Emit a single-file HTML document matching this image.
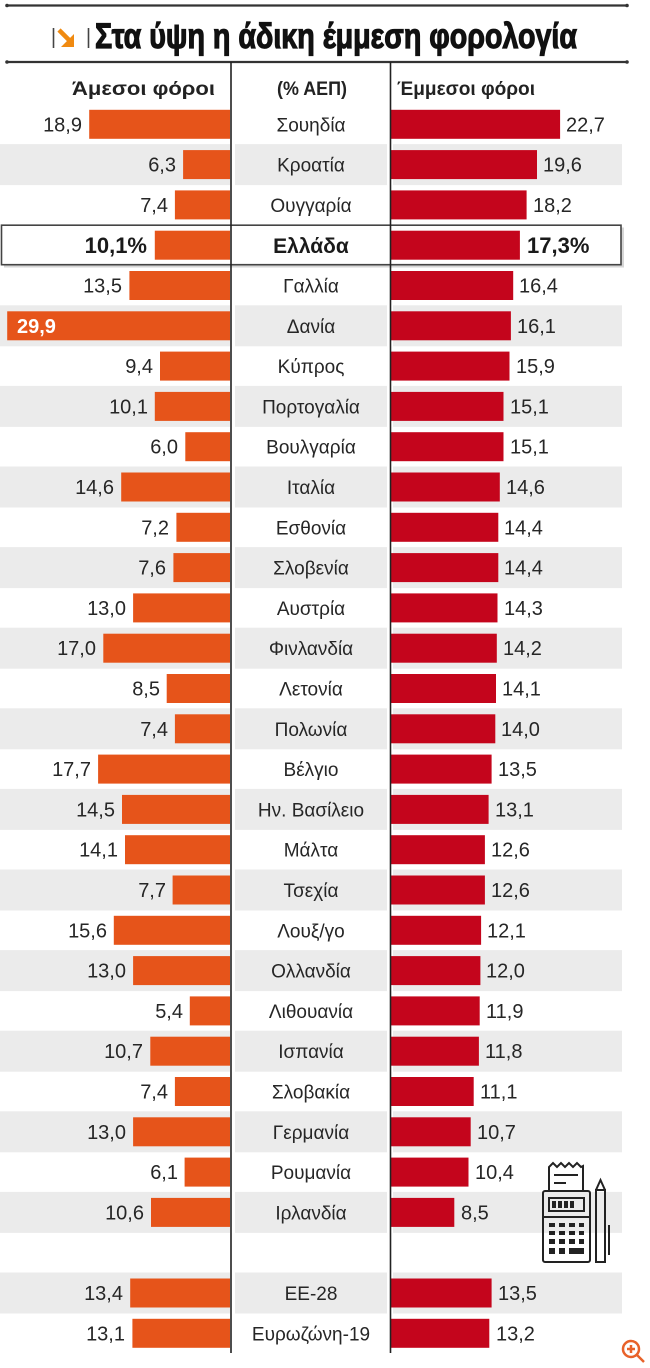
<!DOCTYPE html>
<html>
<head>
<meta charset="utf-8">
<style>
  html,body{margin:0;padding:0;background:#fff;}
  body{width:650px;height:1368px;overflow:hidden;}
  svg{display:block;}
  .lab{font-family:"Liberation Sans","DejaVu Sans",sans-serif;font-size:20px;fill:#262626;}
  .mid{font-family:"Liberation Sans","DejaVu Sans",sans-serif;font-size:19px;fill:#262626;text-anchor:middle;}
  .l{text-anchor:end;}
</style>
</head>
<body>
<svg width="650" height="1368" viewBox="0 0 650 1368" xmlns="http://www.w3.org/2000/svg">
  <rect x="0" y="0" width="650" height="1368" fill="#fff"/>

  <!-- top rules -->
  <line x1="7" y1="5.5" x2="627" y2="5.5" stroke="#333" stroke-width="2.2"/>
  <circle cx="7" cy="5.5" r="1.8" fill="#333"/><circle cx="627" cy="5.5" r="1.8" fill="#333"/>
  <line x1="7" y1="62" x2="627" y2="62" stroke="#333" stroke-width="2.2"/>
  <circle cx="7" cy="62" r="1.8" fill="#333"/><circle cx="627" cy="62" r="1.8" fill="#333"/>

  <!-- title icon -->
  <line x1="53.5" y1="28" x2="53.5" y2="48" stroke="#444" stroke-width="1.6"/>
  <line x1="88.5" y1="28" x2="88.5" y2="48" stroke="#444" stroke-width="1.6"/>
  <polyline points="59,30 71,42" stroke="#f08a10" stroke-width="4.5" fill="none"/>
  <polygon points="74,34 74,47 61,47" fill="#f08a10"/>
  <!-- title -->
  <text x="95" y="48" textLength="482" lengthAdjust="spacingAndGlyphs" font-family="'Liberation Sans','DejaVu Sans',sans-serif" font-weight="bold" font-size="35" fill="#111" stroke="#111" stroke-width="1.2">Στα ύψη η άδικη έμμεση φορολογία</text>

  <!-- headers -->
  <text x="215" y="95" text-anchor="end" textLength="143" lengthAdjust="spacingAndGlyphs" font-family="'Liberation Sans','DejaVu Sans',sans-serif" font-weight="bold" font-size="19" fill="#222">Άμεσοι φόροι</text>
  <text x="277" y="95" textLength="70" lengthAdjust="spacingAndGlyphs" font-family="'Liberation Sans','DejaVu Sans',sans-serif" font-weight="bold" font-size="19" fill="#222">(% ΑΕΠ)</text>
  <text x="397" y="95" textLength="138" lengthAdjust="spacingAndGlyphs" font-family="'Liberation Sans','DejaVu Sans',sans-serif" font-weight="bold" font-size="19" fill="#222">Έμμεσοι φόροι</text>

  <!-- gray bands (odd rows) -->
  <g fill="#ebebeb">
    <rect x="0" y="144.1" width="230" height="41"/><rect x="235" y="144.1" width="152" height="41"/><rect x="393" y="144.1" width="229" height="41"/>
    <rect x="0" y="305.3" width="230" height="41"/><rect x="235" y="305.3" width="152" height="41"/><rect x="393" y="305.3" width="229" height="41"/>
    <rect x="0" y="385.9" width="230" height="41"/><rect x="235" y="385.9" width="152" height="41"/><rect x="393" y="385.9" width="229" height="41"/>
    <rect x="0" y="466.5" width="230" height="41"/><rect x="235" y="466.5" width="152" height="41"/><rect x="393" y="466.5" width="229" height="41"/>
    <rect x="0" y="547.1" width="230" height="41"/><rect x="235" y="547.1" width="152" height="41"/><rect x="393" y="547.1" width="229" height="41"/>
    <rect x="0" y="627.7" width="230" height="41"/><rect x="235" y="627.7" width="152" height="41"/><rect x="393" y="627.7" width="229" height="41"/>
    <rect x="0" y="708.3" width="230" height="41"/><rect x="235" y="708.3" width="152" height="41"/><rect x="393" y="708.3" width="229" height="41"/>
    <rect x="0" y="788.9" width="230" height="41"/><rect x="235" y="788.9" width="152" height="41"/><rect x="393" y="788.9" width="229" height="41"/>
    <rect x="0" y="869.5" width="230" height="41"/><rect x="235" y="869.5" width="152" height="41"/><rect x="393" y="869.5" width="229" height="41"/>
    <rect x="0" y="950.1" width="230" height="41"/><rect x="235" y="950.1" width="152" height="41"/><rect x="393" y="950.1" width="229" height="41"/>
    <rect x="0" y="1030.7" width="230" height="41"/><rect x="235" y="1030.7" width="152" height="41"/><rect x="393" y="1030.7" width="229" height="41"/>
    <rect x="0" y="1111.3" width="230" height="41"/><rect x="235" y="1111.3" width="152" height="41"/><rect x="393" y="1111.3" width="229" height="41"/>
    <rect x="0" y="1191.9" width="230" height="41"/><rect x="235" y="1191.9" width="152" height="41"/><rect x="393" y="1191.9" width="229" height="41"/>
    <rect x="0" y="1272.5" width="230" height="41"/><rect x="235" y="1272.5" width="152" height="41"/><rect x="393" y="1272.5" width="229" height="41"/>
  </g>

  <!-- Greece box -->
  <rect x="4" y="227.5" width="620" height="40" fill="#bbb" opacity="0.6"/>
  <rect x="1.5" y="225.2" width="619.5" height="39.5" fill="#fff" stroke="#444" stroke-width="1.6"/>

  <!-- orange bars -->
  <g fill="#e6541a">
    <rect x="89.2" y="109.8" width="140.8" height="29"/>
    <rect x="183.1" y="150.1" width="46.9" height="29"/>
    <rect x="174.9" y="190.4" width="55.1" height="29"/>
    <rect x="154.8" y="230.7" width="75.2" height="29"/>
    <rect x="129.4" y="271.0" width="100.6" height="29"/>
    <rect x="7.2" y="311.3" width="222.8" height="29"/>
    <rect x="160.0" y="351.6" width="70.0" height="29"/>
    <rect x="154.8" y="391.9" width="75.2" height="29"/>
    <rect x="185.3" y="432.2" width="44.7" height="29"/>
    <rect x="121.2" y="472.5" width="108.8" height="29"/>
    <rect x="176.4" y="512.8" width="53.6" height="29"/>
    <rect x="173.4" y="553.1" width="56.6" height="29"/>
    <rect x="133.1" y="593.4" width="96.9" height="29"/>
    <rect x="103.3" y="633.7" width="126.7" height="29"/>
    <rect x="166.7" y="674.0" width="63.3" height="29"/>
    <rect x="174.9" y="714.3" width="55.1" height="29"/>
    <rect x="98.1" y="754.6" width="131.9" height="29"/>
    <rect x="122.0" y="794.9" width="108.0" height="29"/>
    <rect x="125.0" y="835.2" width="105.0" height="29"/>
    <rect x="172.6" y="875.5" width="57.4" height="29"/>
    <rect x="113.8" y="915.8" width="116.2" height="29"/>
    <rect x="133.1" y="956.1" width="96.9" height="29"/>
    <rect x="189.8" y="996.4" width="40.2" height="29"/>
    <rect x="150.3" y="1036.7" width="79.7" height="29"/>
    <rect x="174.9" y="1077.0" width="55.1" height="29"/>
    <rect x="133.1" y="1117.3" width="96.9" height="29"/>
    <rect x="184.6" y="1157.6" width="45.4" height="29"/>
    <rect x="151.0" y="1197.9" width="79.0" height="29"/>
    <rect x="130.2" y="1278.5" width="99.8" height="29"/>
    <rect x="132.4" y="1318.8" width="97.6" height="29"/>
  </g>

  <!-- red bars -->
  <g fill="#c4051c">
    <rect x="391" y="109.8" width="169.1" height="29"/>
    <rect x="391" y="150.1" width="146.0" height="29"/>
    <rect x="391" y="190.4" width="135.6" height="29"/>
    <rect x="391" y="230.7" width="128.9" height="29"/>
    <rect x="391" y="271.0" width="122.2" height="29"/>
    <rect x="391" y="311.3" width="119.9" height="29"/>
    <rect x="391" y="351.6" width="118.5" height="29"/>
    <rect x="391" y="391.9" width="112.5" height="29"/>
    <rect x="391" y="432.2" width="112.5" height="29"/>
    <rect x="391" y="472.5" width="108.8" height="29"/>
    <rect x="391" y="512.8" width="107.3" height="29"/>
    <rect x="391" y="553.1" width="107.3" height="29"/>
    <rect x="391" y="593.4" width="106.5" height="29"/>
    <rect x="391" y="633.7" width="105.8" height="29"/>
    <rect x="391" y="674.0" width="105.0" height="29"/>
    <rect x="391" y="714.3" width="104.3" height="29"/>
    <rect x="391" y="754.6" width="100.6" height="29"/>
    <rect x="391" y="794.9" width="97.6" height="29"/>
    <rect x="391" y="835.2" width="93.9" height="29"/>
    <rect x="391" y="875.5" width="93.9" height="29"/>
    <rect x="391" y="915.8" width="90.1" height="29"/>
    <rect x="391" y="956.1" width="89.4" height="29"/>
    <rect x="391" y="996.4" width="88.7" height="29"/>
    <rect x="391" y="1036.7" width="87.9" height="29"/>
    <rect x="391" y="1077.0" width="82.7" height="29"/>
    <rect x="391" y="1117.3" width="79.7" height="29"/>
    <rect x="391" y="1157.6" width="77.5" height="29"/>
    <rect x="391" y="1197.9" width="63.3" height="29"/>
    <rect x="391" y="1278.5" width="100.6" height="29"/>
    <rect x="391" y="1318.8" width="98.3" height="29"/>
  </g>

  <!-- dividers -->
  <line x1="231" y1="62" x2="231" y2="1353" stroke="#222" stroke-width="1.6"/>
  <line x1="390.5" y1="62" x2="390.5" y2="1353" stroke="#222" stroke-width="1.6"/>

  <!-- left labels -->
  <g class="lab l">
    <text x="82" y="131.3">18,9</text>
    <text x="176" y="171.6">6,3</text>
    <text x="168" y="211.9">7,4</text>
    <text x="122" y="292.5">13,5</text>
    <text x="153" y="373.1">9,4</text>
    <text x="148" y="413.4">10,1</text>
    <text x="178" y="453.7">6,0</text>
    <text x="114" y="494.0">14,6</text>
    <text x="169" y="534.3">7,2</text>
    <text x="166" y="574.6">7,6</text>
    <text x="126" y="614.9">13,0</text>
    <text x="96" y="655.2">17,0</text>
    <text x="160" y="695.5">8,5</text>
    <text x="168" y="735.8">7,4</text>
    <text x="91" y="776.1">17,7</text>
    <text x="115" y="816.4">14,5</text>
    <text x="118" y="856.7">14,1</text>
    <text x="166" y="897.0">7,7</text>
    <text x="107" y="937.3">15,6</text>
    <text x="126" y="977.6">13,0</text>
    <text x="183" y="1017.9">5,4</text>
    <text x="143" y="1058.2">10,7</text>
    <text x="168" y="1098.5">7,4</text>
    <text x="126" y="1138.8">13,0</text>
    <text x="178" y="1179.1">6,1</text>
    <text x="144" y="1219.4">10,6</text>
    <text x="123" y="1300.0">13,4</text>
    <text x="125" y="1340.3">13,1</text>
  </g>
  <text x="17" y="333" font-family="'Liberation Sans','DejaVu Sans',sans-serif" font-size="20" font-weight="bold" fill="#fff">29,9</text>
  <text x="147" y="253" text-anchor="end" font-family="'Liberation Sans','DejaVu Sans',sans-serif" font-size="22" font-weight="bold" fill="#1a1a1a">10,1%</text>

  <!-- right labels -->
  <g class="lab">
    <text x="566" y="131.3">22,7</text>
    <text x="543" y="171.6">19,6</text>
    <text x="533" y="211.9">18,2</text>
    <text x="519" y="292.5">16,4</text>
    <text x="517" y="332.8">16,1</text>
    <text x="516" y="373.1">15,9</text>
    <text x="510" y="413.4">15,1</text>
    <text x="510" y="453.7">15,1</text>
    <text x="506" y="494.0">14,6</text>
    <text x="504" y="534.3">14,4</text>
    <text x="504" y="574.6">14,4</text>
    <text x="504" y="614.9">14,3</text>
    <text x="503" y="655.2">14,2</text>
    <text x="502" y="695.5">14,1</text>
    <text x="501" y="735.8">14,0</text>
    <text x="498" y="776.1">13,5</text>
    <text x="495" y="816.4">13,1</text>
    <text x="491" y="856.7">12,6</text>
    <text x="491" y="897.0">12,6</text>
    <text x="487" y="937.3">12,1</text>
    <text x="486" y="977.6">12,0</text>
    <text x="486" y="1017.9">11,9</text>
    <text x="485" y="1058.2">11,8</text>
    <text x="480" y="1098.5">11,1</text>
    <text x="477" y="1138.8">10,7</text>
    <text x="475" y="1179.1">10,4</text>
    <text x="461" y="1219.4">8,5</text>
    <text x="498" y="1300.0">13,5</text>
    <text x="496" y="1340.3">13,2</text>
  </g>
  <text x="527" y="253" font-family="'Liberation Sans','DejaVu Sans',sans-serif" font-size="22" font-weight="bold" fill="#1a1a1a">17,3%</text>

  <!-- country names -->
  <g class="mid">
    <text x="311" y="131.3">Σουηδία</text>
    <text x="311" y="171.6">Κροατία</text>
    <text x="311" y="211.9">Ουγγαρία</text>
    <text x="311" y="292.5">Γαλλία</text>
    <text x="311" y="332.8">Δανία</text>
    <text x="311" y="373.1">Κύπρος</text>
    <text x="311" y="413.4">Πορτογαλία</text>
    <text x="311" y="453.7">Βουλγαρία</text>
    <text x="311" y="494.0">Ιταλία</text>
    <text x="311" y="534.3">Εσθονία</text>
    <text x="311" y="574.6">Σλοβενία</text>
    <text x="311" y="614.9">Αυστρία</text>
    <text x="311" y="655.2">Φινλανδία</text>
    <text x="311" y="695.5">Λετονία</text>
    <text x="311" y="735.8">Πολωνία</text>
    <text x="311" y="776.1">Βέλγιο</text>
    <text x="311" y="816.4">Ην. Βασίλειο</text>
    <text x="311" y="856.7">Μάλτα</text>
    <text x="311" y="897.0">Τσεχία</text>
    <text x="311" y="937.3">Λουξ/γο</text>
    <text x="311" y="977.6">Ολλανδία</text>
    <text x="311" y="1017.9">Λιθουανία</text>
    <text x="311" y="1058.2">Ισπανία</text>
    <text x="311" y="1098.5">Σλοβακία</text>
    <text x="311" y="1138.8">Γερμανία</text>
    <text x="311" y="1179.1">Ρουμανία</text>
    <text x="311" y="1219.4">Ιρλανδία</text>
    <text x="311" y="1300.0">ΕΕ-28</text>
    <text x="311" y="1340.3">Ευρωζώνη-19</text>
  </g>
  <text x="311" y="253" text-anchor="middle" font-family="'Liberation Sans','DejaVu Sans',sans-serif" font-size="21" font-weight="bold" fill="#1a1a1a">Ελλάδα</text>

  <!-- calculator icon -->
  <g stroke="#222" stroke-width="2" fill="none">
    <polyline points="549,1192 549,1167 553,1163 557,1167 561,1163 565,1167 569,1163 573,1167 577,1163 581,1167 583,1166 583,1192"/>
    <line x1="554" y1="1175" x2="578" y2="1175"/>
    <line x1="554" y1="1183" x2="566" y2="1183"/>
    <rect x="543" y="1191" width="47" height="71" rx="2"/>
    <rect x="549" y="1198" width="35" height="13"/>
    <line x1="543" y1="1217" x2="590" y2="1217"/>
    <rect x="596" y="1190" width="9" height="72"/>
    <polyline points="596,1190 600.5,1180 605,1190"/>
    <line x1="609" y1="1225" x2="609" y2="1255"/>
  </g>
  <g fill="#222">
    <rect x="549" y="1223" width="6" height="4"/><rect x="559" y="1223" width="6" height="4"/><rect x="569" y="1223" width="6" height="4"/><rect x="579" y="1223" width="5" height="4"/>
    <rect x="549" y="1231" width="6" height="4"/><rect x="559" y="1231" width="6" height="4"/><rect x="569" y="1231" width="6" height="4"/><rect x="579" y="1231" width="5" height="4"/>
    <rect x="549" y="1239" width="6" height="5"/><rect x="559" y="1239" width="6" height="5"/><rect x="569" y="1239" width="6" height="5"/><rect x="579" y="1239" width="5" height="5"/>
    <rect x="549" y="1248" width="6" height="6"/><rect x="559" y="1248" width="6" height="6"/><rect x="569" y="1248" width="15" height="6"/>
    <rect x="552" y="1201" width="4" height="7"/><rect x="558" y="1201" width="4" height="7"/><rect x="564" y="1201" width="4" height="7"/><rect x="570" y="1201" width="4" height="7"/>
  </g>

  <!-- zoom icon -->
  <g stroke="#e8622a" stroke-width="2.5" fill="none">
    <circle cx="631" cy="1349" r="8"/>
    <line x1="637" y1="1355" x2="644" y2="1362"/>
    <line x1="627" y1="1349" x2="635" y2="1349"/>
    <line x1="631" y1="1345" x2="631" y2="1353"/>
  </g>
</svg>
</body>
</html>
